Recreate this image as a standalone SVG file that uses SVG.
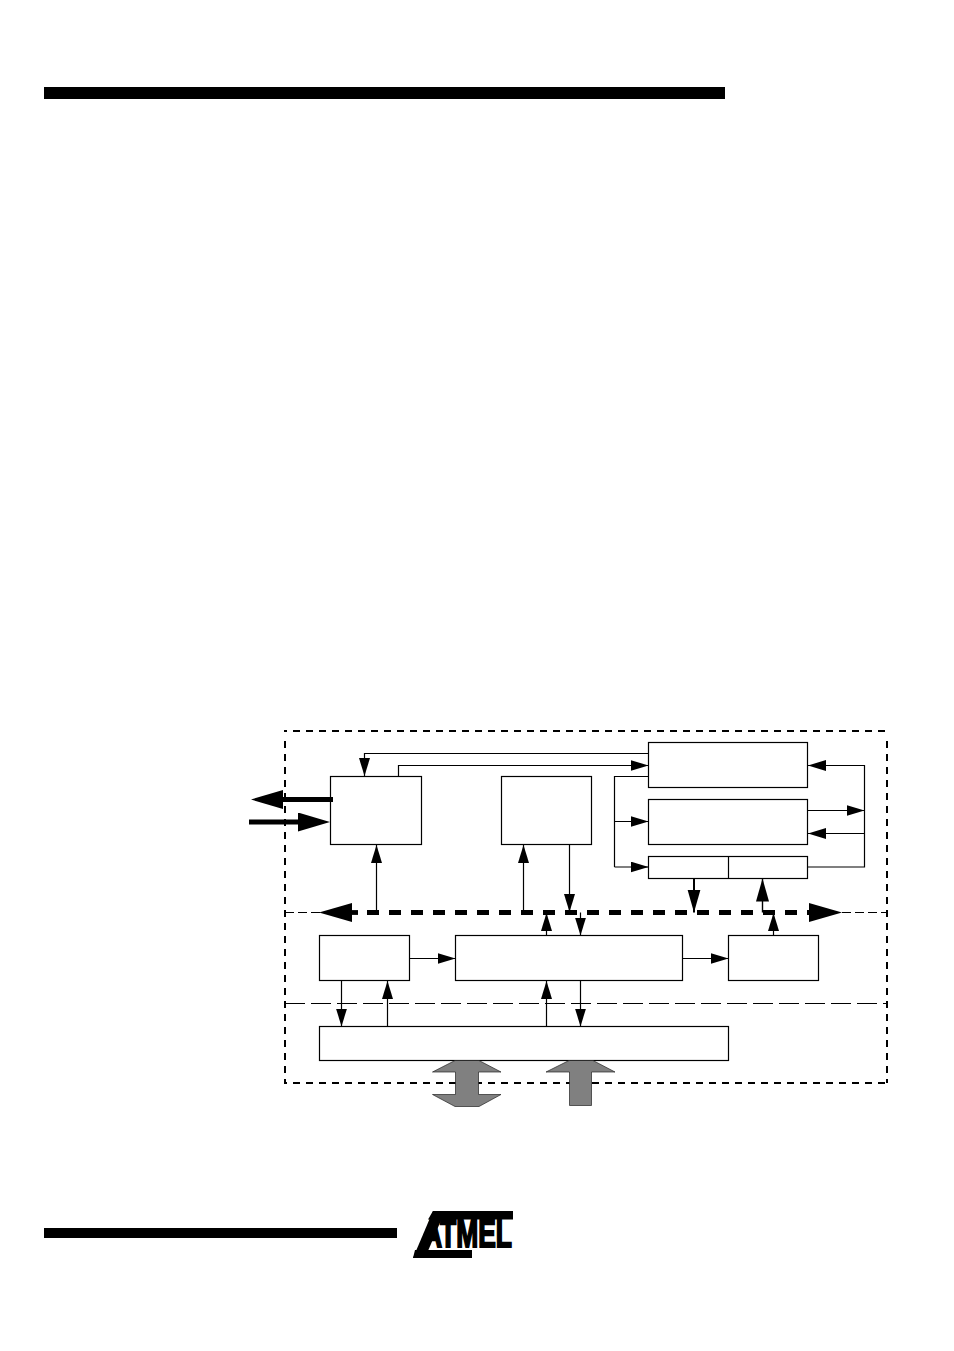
<svg xmlns="http://www.w3.org/2000/svg" width="954" height="1351" viewBox="0 0 954 1351">
<style>
.box{fill:#fff;stroke:#000;stroke-width:1.200}
.c{fill:none;stroke:#000;stroke-width:1.200}
.a{marker-end:url(#thin)}
.hv{fill:none;stroke:#000;stroke-width:4.800;marker-end:url(#big)}
.bd{fill:none;stroke:#000;stroke-width:2;stroke-dasharray:7 6}
.gray{fill:#808080;stroke:#222;stroke-width:.7}
.logo{font-family:"Liberation Sans",Arial,sans-serif;font-weight:700;font-size:39px;stroke:#000;stroke-width:2}
</style>
<defs>
<marker id="thin" markerUnits="userSpaceOnUse" markerWidth="18" markerHeight="12" refX="18" refY="5.500" orient="auto"><path d="M0 0L18 5.500L0 11Z" fill="#000"/></marker>
<marker id="big" markerUnits="userSpaceOnUse" markerWidth="33" markerHeight="20" refX="12" refY="9.500" orient="auto"><path d="M0 0L32 9.500L0 19Z" fill="#000"/></marker>
<marker id="mid" markerUnits="userSpaceOnUse" markerWidth="24" markerHeight="14" refX="23" refY="6.500" orient="auto"><path d="M0 0L23 6.500L0 13Z" fill="#000"/></marker>
</defs>
<rect id="header-bar" x="44" y="87" width="681" height="12" fill="#000"/>
<rect id="footer-bar" x="44" y="1228" width="353" height="10" fill="#000"/>
<g id="logo">
<path d="M433 1211H513V1219.500H428Z" fill="#000"/>
<path d="M433 1211H445L425 1258H413Z" fill="#000"/>
<text class="logo" x="423" y="1247" textLength="89" lengthAdjust="spacingAndGlyphs">ATMEL</text>
<path d="M415 1250H472V1258H413Z" fill="#000"/>
</g>
<g id="boundary">
<path class="bd" d="M284 731H888" stroke-dashoffset="4"/>
<path class="bd" d="M285 741V1083"/>
<path class="bd" d="M887 741V1083"/>
<path class="bd" d="M284 1083H888" stroke-dashoffset="4"/>
</g>
<g id="node-left"><rect class="box" x="330.500" y="776.500" width="91" height="68"/></g>
<g id="node-mid"><rect class="box" x="501.500" y="776.500" width="90" height="68"/></g>
<g id="node-top"><rect class="box" x="648.500" y="742.500" width="159" height="45"/></g>
<g id="node-second"><rect class="box" x="648.500" y="799.500" width="159" height="45"/></g>
<g id="node-split"><rect class="box" x="648.500" y="856.500" width="159" height="22"/><path class="c" d="M728.500 856.500V878.500"/></g>
<g id="node-low1"><rect class="box" x="319.500" y="935.500" width="90" height="45"/></g>
<g id="node-low2"><rect class="box" x="455.500" y="935.500" width="227" height="45"/></g>
<g id="node-low3"><rect class="box" x="728.500" y="935.500" width="90" height="45"/></g>
<g id="node-bottom"><rect class="box" x="319.500" y="1026.500" width="409" height="34"/></g>
<g id="connectors">
<path class="c" d="M285 1003.500H887" stroke-dasharray="20 6"/>
<path class="c" d="M285 912.500H322M842 912.500H887" stroke-dasharray="9 4"/>
<path d="M352 912.500H358" stroke="#000" stroke-width="4.800"/>
<path d="M367 912.500H809" stroke="#000" stroke-width="4.800" stroke-dasharray="12 10" fill="none"/>
<path d="M809 903L842 912.500L809 922Z" fill="#000"/>
<path d="M352 903L319 912.500L352 922Z" fill="#000"/>
<path class="hv" d="M333 799.500H271"/>
<path class="hv" d="M249 822H310"/>
<path class="c a" d="M648.500 753.500H364.500V776"/>
<path class="c a" d="M398.500 776V765.500H648.500"/>
<path class="c" d="M648.500 776.500H614.500V867"/>
<path class="c a" d="M614.500 821.500H648.500"/>
<path class="c a" d="M614.500 867H648.500"/>
<path class="c a" d="M807.500 867H864.500V765.500H808"/>
<path class="c a" d="M807.500 810.500H864.500"/>
<path class="c a" d="M864.500 833.500H808"/>
<path class="c a" d="M376.500 912V845"/>
<path class="c a" d="M523.500 912V845"/>
<path class="c a" d="M569.500 844.500V912"/>
<path d="M694 878.500V912.500" stroke="#000" stroke-width="2" marker-end="url(#mid)"/>
<path d="M762.500 912.500V878.500" stroke="#000" stroke-width="1.400" marker-end="url(#mid)"/>
<path class="c a" d="M546.500 935.500V913"/>
<path class="c a" d="M580.500 912.500V935.500"/>
<path class="c a" d="M773.500 935.500V913"/>
<path class="c a" d="M409.500 958.500H455.500"/>
<path class="c a" d="M682.500 958.500H728.500"/>
<path class="c a" d="M341.500 980.500V1026.500"/>
<path class="c a" d="M387.500 1026.500V981"/>
<path class="c a" d="M546.500 1026.500V981"/>
<path class="c a" d="M580.500 980.500V1026.500"/>
</g>
<g id="bus-double"><path class="gray" d="M455 1060.500H479L501 1072H478.500V1094.500H501L479 1106.500H455L432.500 1094.500H455.500V1072H432.500Z"/></g>
<g id="bus-single"><path class="gray" d="M569 1060.500H593L615 1072H591.500V1105.500H569.500V1072H546Z"/></g>
</svg>
